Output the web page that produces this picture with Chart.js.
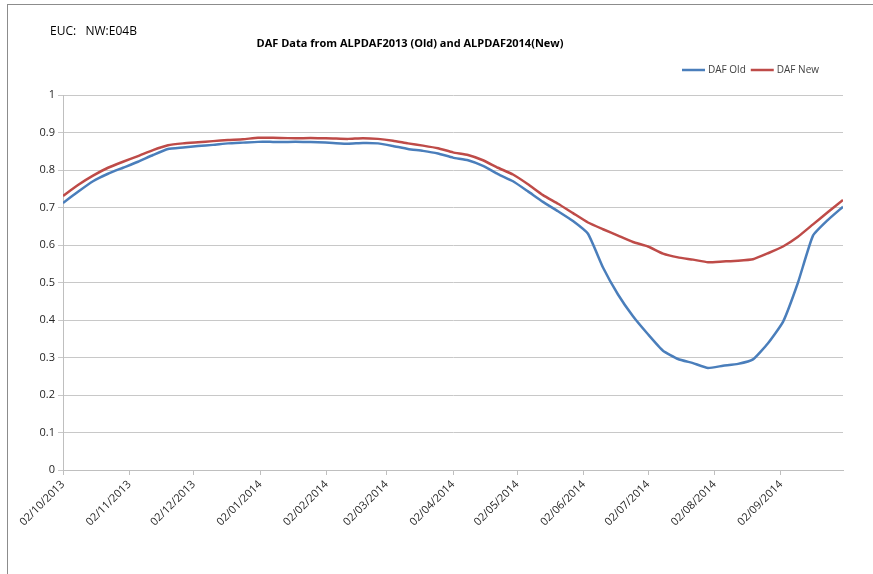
<!DOCTYPE html>
<html>
<head>
<meta charset="utf-8">
<script src="https://cdn.jsdelivr.net/npm/chart.js@4"></script>
<style>
  html, body { margin: 0; padding: 0; background: #fff; overflow: hidden; }
  #wrap { position: relative; width: 873px; height: 574px; }
  #frame { position: absolute; left: 7px; top: 4px; right: 0; bottom: 0;
           border-top: 1px solid #8c8c8c; border-left: 1px solid #8c8c8c; pointer-events: none; }
</style>
</head>
<body>
<div id="wrap">
  <canvas id="dafChart"></canvas>
  <div id="frame"></div>
</div>
<script>
// days since 02/10/2013 (weekly readings)
const days = [0, 7, 14, 21, 28, 35, 42, 49, 56, 63, 70, 77, 84, 91, 98, 105, 112, 119, 126, 133,
  140, 147, 154, 161, 168, 175, 182, 189, 196, 203, 210, 217, 224, 231, 238, 245, 252, 259, 266,
  273, 280, 287, 294, 301, 308, 315, 322, 329, 336, 343, 350, 357, 364];

const dafOld = [0.712, 0.742, 0.77, 0.79, 0.806, 0.822, 0.84, 0.856, 0.86, 0.864, 0.867, 0.871,
  0.873, 0.875, 0.875, 0.875, 0.875, 0.874, 0.872, 0.87, 0.872, 0.871, 0.864, 0.856, 0.851, 0.844,
  0.833, 0.826, 0.811, 0.789, 0.77, 0.743, 0.715, 0.69, 0.664, 0.63, 0.54, 0.468, 0.41, 0.362,
  0.318, 0.296, 0.285, 0.272, 0.278, 0.283, 0.295, 0.338, 0.395, 0.5, 0.625, 0.667, 0.702];

const dafNew = [0.731, 0.76, 0.785, 0.806, 0.822, 0.837, 0.853, 0.866, 0.871, 0.874, 0.877, 0.88,
  0.882, 0.886, 0.886, 0.885, 0.885, 0.885, 0.884, 0.883, 0.885, 0.883, 0.878, 0.871, 0.865, 0.858,
  0.847, 0.84, 0.826, 0.806, 0.788, 0.762, 0.733, 0.71, 0.685, 0.66, 0.642, 0.625, 0.608, 0.596,
  0.577, 0.567, 0.561, 0.554, 0.556, 0.558, 0.562, 0.578, 0.596, 0.622, 0.655, 0.688, 0.72];

// x tick positions (2nd of each month) and their labels
const tickDays = [0, 31, 61, 92, 123, 151, 182, 212, 243, 273, 304, 335];
const tickLabels = ['02/10/2013', '02/11/2013', '02/12/2013', '02/01/2014', '02/02/2014', '02/03/2014',
  '02/04/2014', '02/05/2014', '02/06/2014', '02/07/2014', '02/08/2014', '02/09/2014'];

const textFont = '"Open Sans", "Liberation Sans", sans-serif';

// titre, étiquette EUC et légende dessinés à la main
const extras = {
  id: 'extras',
  afterDraw(chart) {
    const c = chart.ctx;
    c.save();
    c.fillStyle = '#000';
    c.textBaseline = 'middle';
    c.font = '12px ' + textFont;
    c.textAlign = 'left';
    c.fillText('EUC:   NW:E04B', 50, 32);
    c.font = 'bold 11px ' + textFont;
    c.textAlign = 'center';
    c.fillText('DAF Data from ALPDAF2013 (Old) and ALPDAF2014(New)', 410, 44);

    c.font = '10px ' + textFont;
    c.textAlign = 'left';
    c.fillStyle = '#404040';
    let x = 682;
    chart.data.datasets.forEach(ds => {
      c.strokeStyle = ds.borderColor;
      c.lineWidth = 2.5;
      c.beginPath();
      c.moveTo(x, 70);
      c.lineTo(x + 23, 70);
      c.stroke();
      c.fillText(ds.label, x + 26, 70);
      x += 26 + c.measureText(ds.label).width + 5;
    });
    c.restore();
  }
};

const ctx = document.getElementById('dafChart').getContext('2d');
new Chart(ctx, {
  type: 'line',
  data: {
    datasets: [{
      label: 'DAF Old',
      data: days.map((d, i) => ({ x: d, y: dafOld[i] })),
      borderColor: '#4a7ebb',
      borderWidth: 2.5,
      pointRadius: 0,
      tension: 0.15
    }, {
      label: 'DAF New',
      data: days.map((d, i) => ({ x: d, y: dafNew[i] })),
      borderColor: '#be4b48',
      borderWidth: 2.5,
      pointRadius: 0,
      tension: 0.15
    }]
  },
  options: {
    responsive: true,
    maintainAspectRatio: false,
    animation: false,
    layout: { padding: { top: 95, right: 30, left: 8, bottom: 0 } },
    plugins: {
      legend: { display: false },
      tooltip: { enabled: false }
    },
    scales: {
      x: {
        type: 'linear',
        min: 0,
        max: 364,
        afterBuildTicks: axis => { axis.ticks = tickDays.map(v => ({ value: v })); },
        afterFit: axis => { axis.height = 104; },
        grid: { drawOnChartArea: false, drawTicks: true, tickLength: 5, color: '#bfbfbf' },
        border: { color: '#bfbfbf' },
        ticks: {
          autoSkip: false,
          minRotation: 45,
          maxRotation: 45,
          color: '#262626',
          font: { family: textFont, size: 11 },
          callback: v => tickLabels[tickDays.indexOf(v)]
        }
      },
      y: {
        min: 0,
        max: 1,
        afterFit: axis => { axis.width = 55; },
        grid: { color: '#c8c8c8', tickLength: 5 },
        border: { color: '#bfbfbf' },
        ticks: {
          stepSize: 0.1,
          color: '#262626',
          font: { family: textFont, size: 11 },
          callback: v => String(Number(v.toFixed(1)))
        }
      }
    }
  },
  plugins: [extras]
});
</script>
</body>
</html>
